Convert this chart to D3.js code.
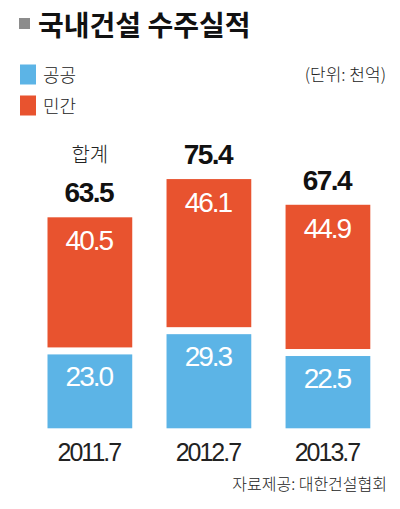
<!DOCTYPE html>
<html>
<head>
<meta charset="utf-8">
<script src="https://cdn.jsdelivr.net/npm/d3@7"></script>
<style>
  body { margin: 0; background: #fff; }
  svg { display: block; }
  .kr { font-family: "Noto Sans CJK KR", "Noto Sans", sans-serif; }
  .num { font-family: "Liberation Sans", Arial, sans-serif; }
</style>
</head>
<body>
<svg id="chart"></svg>
<script>
// dati (unita': mille miliardi di won)
var anni = ["2011.7", "2012.7", "2013.7"];
var pubblico = [23.0, 29.3, 22.5];   // 공공
var privato = [40.5, 46.1, 44.9];    // 민간
var totali = [63.5, 75.4, 67.4];     // 합계
var nomiSerie = ["공공", "민간"];
var coloriSerie = ["#5cb4e6", "#e8532f"];

var w = 400, h = 509;
var gap = 7; // spazio bianco tra i due segmenti

var svg = d3.select("#chart").attr("width", w).attr("height", h);

// scale
var xScale = d3.scaleBand().domain(anni).range([47.5, 370.3]).paddingInner(0.288).paddingOuter(0);
var yScale = d3.scaleLinear().domain([0, 80]).range([428.3, 171.3]);

// titolo con quadratino grigio
svg.append("rect")
  .attr("x", 19).attr("y", 18).attr("width", 11).attr("height", 11)
  .attr("fill", "#8c8c8c");
svg.append("text")
  .attr("class", "kr")
  .attr("x", 38).attr("y", 36)
  .style("font-size", "28px").style("font-weight", "bold")
  .style("fill", "#111")
  .text("국내건설 수주실적");

// legenda
var legenda = svg.selectAll(".legenda")
  .data(nomiSerie)
  .enter().append("g")
  .attr("class", "legenda")
  .attr("transform", function(d, i) { return "translate(20," + (64.5 + i * 31) + ")"; });
legenda.append("rect")
  .attr("width", 16).attr("height", 20)
  .attr("fill", function(d, i) { return coloriSerie[i]; });
legenda.append("text")
  .attr("class", "kr")
  .attr("x", 23).attr("y", 17.5)
  .style("font-size", "18px").style("font-weight", 300).style("fill", "#222")
  .text(function(d) { return d; });

// unita'
svg.append("text")
  .attr("class", "kr")
  .attr("x", 386).attr("y", 81)
  .attr("text-anchor", "end")
  .style("font-size", "17px").style("font-weight", 300).style("fill", "#222")
  .text("(단위: 천억)");

// barre: pubblico in basso, privato sopra staccato di gap
var gruppi = svg.selectAll(".barra")
  .data(anni)
  .enter().append("g")
  .attr("class", "barra");

gruppi.append("rect")
  .attr("x", function(d) { return xScale(d); })
  .attr("width", xScale.bandwidth())
  .attr("y", function(d, i) { return yScale(pubblico[i]); })
  .attr("height", function(d, i) { return yScale(0) - yScale(pubblico[i]); })
  .attr("fill", coloriSerie[0]);

gruppi.append("rect")
  .attr("x", function(d) { return xScale(d); })
  .attr("width", xScale.bandwidth())
  .attr("y", function(d, i) { return yScale(pubblico[i] + privato[i]) - gap; })
  .attr("height", function(d, i) { return yScale(pubblico[i]) - yScale(pubblico[i] + privato[i]); })
  .attr("fill", coloriSerie[1]);

// valori dentro le barre
gruppi.append("text")
  .attr("class", "num")
  .attr("x", function(d) { return xScale(d) + xScale.bandwidth() / 2 - 1; })
  .attr("y", function(d, i) { return yScale(pubblico[i]) + 32; })
  .attr("text-anchor", "middle")
  .style("font-size", "28px").style("letter-spacing", "-2px")
  .style("fill", "#fff")
  .text(function(d, i) { return pubblico[i].toFixed(1); });

gruppi.append("text")
  .attr("class", "num")
  .attr("x", function(d) { return xScale(d) + xScale.bandwidth() / 2 - 1; })
  .attr("y", function(d, i) { return yScale(pubblico[i] + privato[i]) - gap + 33; })
  .attr("text-anchor", "middle")
  .style("font-size", "28px").style("letter-spacing", "-2px")
  .style("fill", "#fff")
  .text(function(d, i) { return privato[i].toFixed(1); });

// totali sopra le barre
gruppi.append("text")
  .attr("class", "num")
  .attr("x", function(d) { return xScale(d) + xScale.bandwidth() / 2 - 1; })
  .attr("y", function(d, i) { return yScale(pubblico[i] + privato[i]) - gap - 15; })
  .attr("text-anchor", "middle")
  .style("font-size", "28px").style("font-weight", "bold").style("letter-spacing", "-1.5px")
  .style("fill", "#111")
  .text(function(d, i) { return totali[i].toFixed(1); });

// etichetta 합계 sopra il primo totale
svg.append("text")
  .attr("class", "kr")
  .attr("x", xScale(anni[0]) + xScale.bandwidth() / 2)
  .attr("y", yScale(pubblico[0] + privato[0]) - gap - 55)
  .attr("text-anchor", "middle")
  .style("font-size", "20px").style("font-weight", 300).style("fill", "#222")
  .text("합계");

// etichette asse x
gruppi.append("text")
  .attr("class", "num")
  .attr("x", function(d) { return xScale(d) + xScale.bandwidth() / 2 - 1; })
  .attr("y", 460.5)
  .attr("text-anchor", "middle")
  .style("font-size", "25px").style("letter-spacing", "-2px")
  .style("fill", "#222")
  .text(function(d) { return d; });

// fonte
svg.append("text")
  .attr("class", "kr")
  .attr("x", 387).attr("y", 490)
  .attr("text-anchor", "end")
  .style("font-size", "16px").style("font-weight", 300).style("fill", "#222")
  .text("자료제공: 대한건설협회");
</script>
</body>
</html>
